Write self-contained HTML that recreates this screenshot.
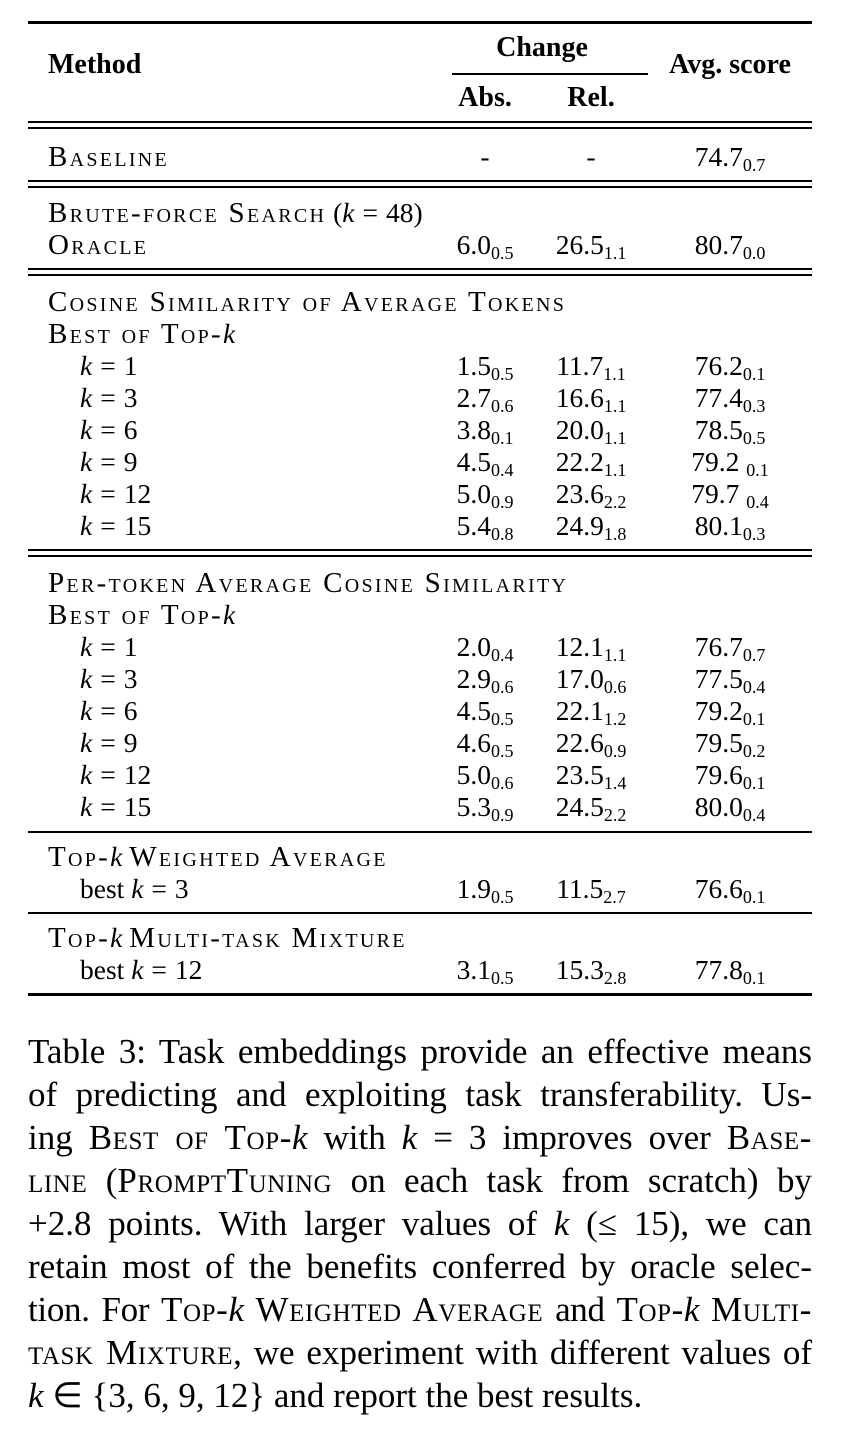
<!DOCTYPE html>
<html><head><meta charset="utf-8"><style>
body{margin:0;background:#fff;width:856px;height:1432px;position:relative;font-family:"Liberation Serif",serif;color:#000;overflow:hidden}
.t{position:absolute;font-size:27.5px;line-height:30px;white-space:nowrap}
.sc{font-variant:small-caps;font-size:29px;letter-spacing:2.3px}
.b{font-weight:bold;font-size:28px}
.c{transform:translateX(-50%)}
sub{font-size:18px;vertical-align:-5px;line-height:0;letter-spacing:0}
i{font-style:italic}
.e{margin:0 8px}
.r{position:absolute;left:28px;width:784px;background:#000}
.cap{position:absolute;left:28px;width:784px;font-size:35px;line-height:43px;text-align:justify;text-align-last:justify;white-space:nowrap}
.cap .sc{font-size:35px;letter-spacing:0.6px}
.cap.l{text-align-last:left}
</style></head><body>
<div class="r" style="top:21px;height:3px"></div>
<div class="t b" style="left:48px;top:50px">Method</div>
<div class="t b c" style="left:542px;top:33px">Change</div>
<div style="position:absolute;left:452px;top:73px;width:196px;height:1.5px;background:#000"></div>
<div class="t b c" style="left:485px;top:83px">Abs.</div>
<div class="t b c" style="left:591px;top:83px">Rel.</div>
<div class="t b c" style="left:730px;top:50px">Avg. score</div>
<div class="r" style="top:121px;height:1.5px"></div><div class="r" style="top:127px;height:1.5px"></div>
<div class="t sc" style="left:48px;top:142px">Baseline</div>
<div class="t c" style="left:485px;top:142px">-</div><div class="t c" style="left:591px;top:142px">-</div>
<div class="t c" style="left:730px;top:142px">74.7<sub>0.7</sub></div>
<div class="r" style="top:180px;height:1.5px"></div><div class="r" style="top:186px;height:1.5px"></div>
<div class="t" style="left:48px;top:198px"><span class="sc">Brute-force Search</span> (<i>k</i><span class="e">=</span>48)</div>
<div class="t sc" style="left:48px;top:230px">Oracle</div>
<div class="t c" style="left:485px;top:230px">6.0<sub>0.5</sub></div><div class="t c" style="left:591px;top:230px">26.5<sub>1.1</sub></div><div class="t c" style="left:730px;top:230px">80.7<sub>0.0</sub></div>
<div class="r" style="top:268px;height:1.5px"></div><div class="r" style="top:274px;height:1.5px"></div>
<div class="t sc" style="left:48px;top:287px">Cosine Similarity of Average Tokens</div>
<div class="t" style="left:48px;top:319px"><span class="sc">Best of Top-</span><i>k</i></div>
<div class="t" style="left:80px;top:351px"><i>k</i><span class="e">=</span>1</div><div class="t c" style="left:485px;top:351px">1.5<sub>0.5</sub></div><div class="t c" style="left:591px;top:351px">11.7<sub>1.1</sub></div><div class="t c" style="left:730px;top:351px">76.2<sub>0.1</sub></div>
<div class="t" style="left:80px;top:383px"><i>k</i><span class="e">=</span>3</div><div class="t c" style="left:485px;top:383px">2.7<sub>0.6</sub></div><div class="t c" style="left:591px;top:383px">16.6<sub>1.1</sub></div><div class="t c" style="left:730px;top:383px">77.4<sub>0.3</sub></div>
<div class="t" style="left:80px;top:415px"><i>k</i><span class="e">=</span>6</div><div class="t c" style="left:485px;top:415px">3.8<sub>0.1</sub></div><div class="t c" style="left:591px;top:415px">20.0<sub>1.1</sub></div><div class="t c" style="left:730px;top:415px">78.5<sub>0.5</sub></div>
<div class="t" style="left:80px;top:447px"><i>k</i><span class="e">=</span>9</div><div class="t c" style="left:485px;top:447px">4.5<sub>0.4</sub></div><div class="t c" style="left:591px;top:447px">22.2<sub>1.1</sub></div><div class="t c" style="left:730px;top:447px">79.2 <sub>0.1</sub></div>
<div class="t" style="left:80px;top:479px"><i>k</i><span class="e">=</span>12</div><div class="t c" style="left:485px;top:479px">5.0<sub>0.9</sub></div><div class="t c" style="left:591px;top:479px">23.6<sub>2.2</sub></div><div class="t c" style="left:730px;top:479px">79.7 <sub>0.4</sub></div>
<div class="t" style="left:80px;top:511px"><i>k</i><span class="e">=</span>15</div><div class="t c" style="left:485px;top:511px">5.4<sub>0.8</sub></div><div class="t c" style="left:591px;top:511px">24.9<sub>1.8</sub></div><div class="t c" style="left:730px;top:511px">80.1<sub>0.3</sub></div>
<div class="r" style="top:549px;height:1.5px"></div><div class="r" style="top:555px;height:1.5px"></div>
<div class="t sc" style="left:48px;top:568px">Per-token Average Cosine Similarity</div>
<div class="t" style="left:48px;top:600px"><span class="sc">Best of Top-</span><i>k</i></div>
<div class="t" style="left:80px;top:632px"><i>k</i><span class="e">=</span>1</div><div class="t c" style="left:485px;top:632px">2.0<sub>0.4</sub></div><div class="t c" style="left:591px;top:632px">12.1<sub>1.1</sub></div><div class="t c" style="left:730px;top:632px">76.7<sub>0.7</sub></div>
<div class="t" style="left:80px;top:664px"><i>k</i><span class="e">=</span>3</div><div class="t c" style="left:485px;top:664px">2.9<sub>0.6</sub></div><div class="t c" style="left:591px;top:664px">17.0<sub>0.6</sub></div><div class="t c" style="left:730px;top:664px">77.5<sub>0.4</sub></div>
<div class="t" style="left:80px;top:696px"><i>k</i><span class="e">=</span>6</div><div class="t c" style="left:485px;top:696px">4.5<sub>0.5</sub></div><div class="t c" style="left:591px;top:696px">22.1<sub>1.2</sub></div><div class="t c" style="left:730px;top:696px">79.2<sub>0.1</sub></div>
<div class="t" style="left:80px;top:728px"><i>k</i><span class="e">=</span>9</div><div class="t c" style="left:485px;top:728px">4.6<sub>0.5</sub></div><div class="t c" style="left:591px;top:728px">22.6<sub>0.9</sub></div><div class="t c" style="left:730px;top:728px">79.5<sub>0.2</sub></div>
<div class="t" style="left:80px;top:760px"><i>k</i><span class="e">=</span>12</div><div class="t c" style="left:485px;top:760px">5.0<sub>0.6</sub></div><div class="t c" style="left:591px;top:760px">23.5<sub>1.4</sub></div><div class="t c" style="left:730px;top:760px">79.6<sub>0.1</sub></div>
<div class="t" style="left:80px;top:792px"><i>k</i><span class="e">=</span>15</div><div class="t c" style="left:485px;top:792px">5.3<sub>0.9</sub></div><div class="t c" style="left:591px;top:792px">24.5<sub>2.2</sub></div><div class="t c" style="left:730px;top:792px">80.0<sub>0.4</sub></div>
<div class="r" style="top:831px;height:1.5px"></div>
<div class="t" style="left:48px;top:842px"><span class="sc">Top-</span><i>k</i> <span class="sc">Weighted Average</span></div>
<div class="t" style="left:80px;top:874px">best <i>k</i><span class="e">=</span>3</div><div class="t c" style="left:485px;top:874px">1.9<sub>0.5</sub></div><div class="t c" style="left:591px;top:874px">11.5<sub>2.7</sub></div><div class="t c" style="left:730px;top:874px">76.6<sub>0.1</sub></div>
<div class="r" style="top:912px;height:1.5px"></div>
<div class="t" style="left:48px;top:923px"><span class="sc">Top-</span><i>k</i> <span class="sc">Multi-task Mixture</span></div>
<div class="t" style="left:80px;top:955px">best <i>k</i><span class="e">=</span>12</div><div class="t c" style="left:485px;top:955px">3.1<sub>0.5</sub></div><div class="t c" style="left:591px;top:955px">15.3<sub>2.8</sub></div><div class="t c" style="left:730px;top:955px">77.8<sub>0.1</sub></div>
<div class="r" style="top:993px;height:3px"></div>
<div class="cap" style="top:1030px">Table 3: Task embeddings provide an effective means</div>
<div class="cap" style="top:1073px">of predicting and exploiting task transferability. Us-</div>
<div class="cap" style="top:1116px">ing <span class="sc">Best of Top-</span><i>k</i> with <i>k</i> = 3 improves over <span class="sc">Base-</span></div>
<div class="cap" style="top:1159px"><span class="sc">line</span> (<span class="sc">PromptTuning</span> on each task from scratch) by</div>
<div class="cap" style="top:1202px">+2.8 points. With larger values of <i>k</i> (≤ 15), we can</div>
<div class="cap" style="top:1245px">retain most of the benefits conferred by oracle selec-</div>
<div class="cap" style="top:1288px;letter-spacing:-0.3px">tion. For <span class="sc">Top-</span><i>k</i> <span class="sc">Weighted Average</span> and <span class="sc">Top-</span><i>k</i> <span class="sc">Multi-</span></div>
<div class="cap" style="top:1331px"><span class="sc">task Mixture</span>, we experiment with different values of</div>
<div class="cap l" style="top:1374px"><i>k</i> ∈ {3, 6, 9, 12} and report the best results.</div>
</body></html>
